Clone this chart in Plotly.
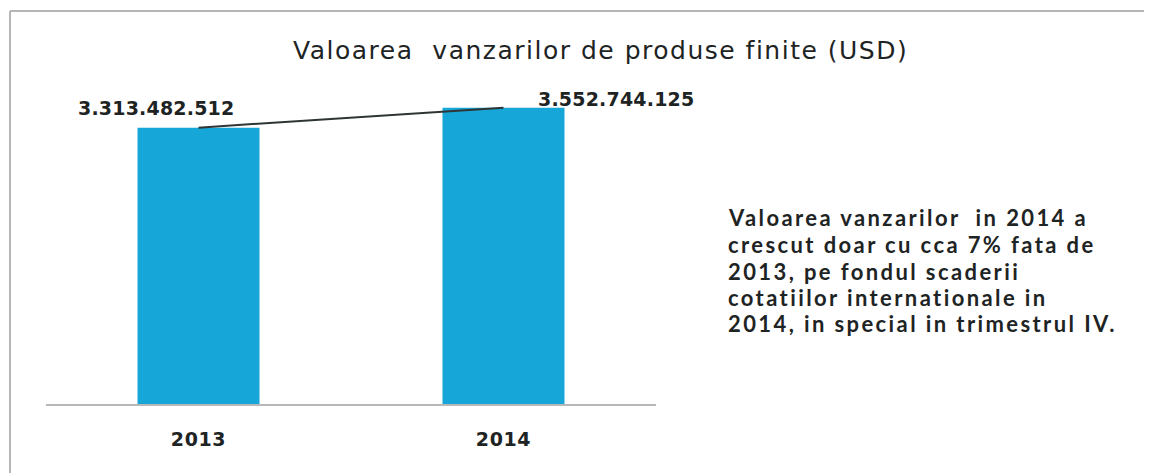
import plotly.graph_objects as go

years = ["2013", "2014"]
values = [3313482512, 3552744125]
value_labels = ["3.313.482.512", "3.552.744.125"]
title_text = "Valoarea  vanzarilor de produse finite (USD)"
note_lines = [
    "Valoarea vanzarilor  in 2014 a",
    "crescut doar cu cca 7% fata de",
    "2013, pe fondul scaderii",
    "cotatiilor internationale in",
    "2014, in special in trimestrul IV.",
]

W, H = 1152, 473
OX, OY = 8, 8  # page body margin


def px(X):
    return (X - OX) / W


def py(Y):
    return 1 - (Y - OY) / H


def spaced(t, ls):
    return '<span style="letter-spacing:%spx">%s</span>' % (ls, t)


TXT = "#1e2424"
fig = go.Figure()
fig.add_trace(go.Bar(x=years, y=values, width=0.4, marker=dict(color="#16A6D8", line=dict(width=0)),
                     showlegend=False, hoverinfo="skip"))
fig.add_trace(go.Scatter(x=years, y=values, mode="lines", line=dict(color="#2f3535", width=2),
                         showlegend=False, hoverinfo="skip"))

# data labels
label_shift = [(-43, 20), (112, 9)]
for i, (v, lab, (dx, dy)) in enumerate(zip(values, value_labels, label_shift)):
    fig.add_annotation(x=i, y=v, text="<b>" + spaced(lab, 0.2) + "</b>", showarrow=False, xref="x", yref="y",
                       xshift=dx, yshift=dy, font=dict(family="DejaVu Sans", size=19, color=TXT))

fig.add_annotation(x=px(600), y=py(50), xref="paper", yref="paper", text=spaced(title_text, 1.5),
                   showarrow=False, font=dict(family="DejaVu Sans", size=25, color=TXT),
                   xanchor="center", yanchor="middle")

note_y = [218, 244, 271, 297, 323]
for line, ly in zip(note_lines, note_y):
    fig.add_annotation(x=px(726), y=py(ly), xref="paper", yref="paper",
                       text="<b>" + spaced(line, 2.4) + "</b>", showarrow=False, align="left",
                       xanchor="left", yanchor="middle",
                       font=dict(family="Lato", size=22, color=TXT))

fig.update_layout(
    width=W, height=H, margin=dict(l=0, r=0, t=0, b=0),
    paper_bgcolor="white", plot_bgcolor="white",
    xaxis=dict(domain=[px(46), px(656)], range=[-0.5, 1.5], type="category", showgrid=False,
               showline=True, linecolor="#b8b8b8", linewidth=2, ticks="",
               tickfont=dict(family="DejaVu Sans", size=19, color=TXT),
               tickvals=years, ticktext=["<b>" + spaced(y, 0.6) + "</b>" for y in years],
               ticklabelstandoff=17),
    yaxis=dict(domain=[py(404), py(37)], range=[0, 4.4e9], visible=False),
    shapes=[
        dict(type="line", xref="paper", yref="paper", x0=px(10), x1=1, y0=py(11), y1=py(11),
             line=dict(color="#b5b5b5", width=2)),
        dict(type="line", xref="paper", yref="paper", x0=px(10), x1=px(10), y0=0, y1=py(11),
             line=dict(color="#b5b5b5", width=2)),
    ],
)
fig.write_html("out.html")
